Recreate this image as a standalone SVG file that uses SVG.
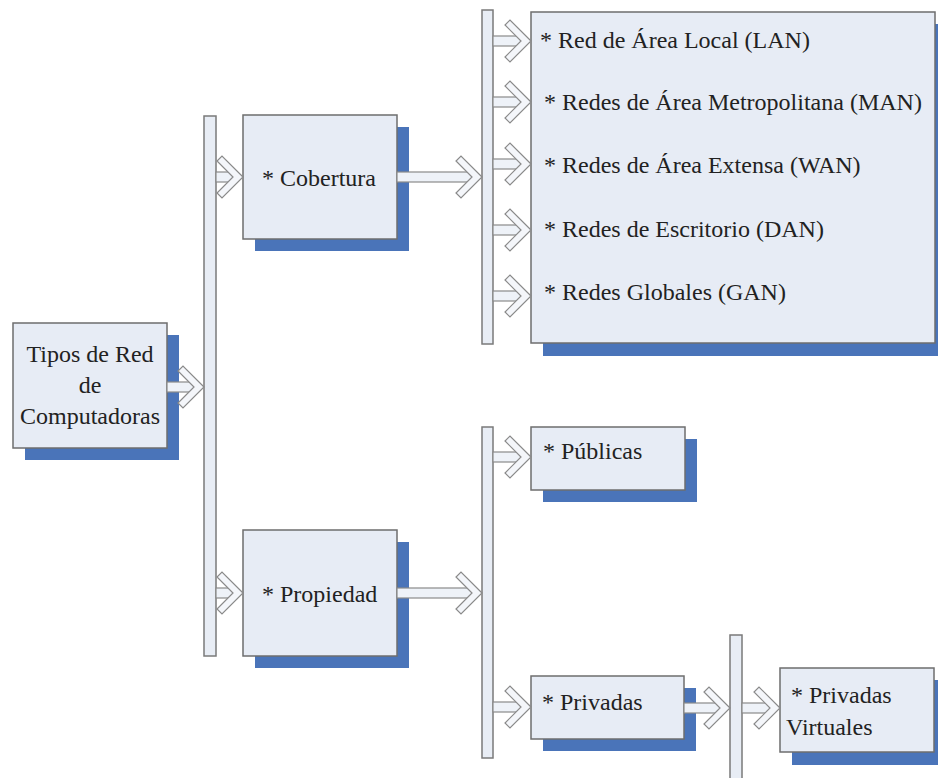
<svg xmlns="http://www.w3.org/2000/svg" xmlns:xlink="http://www.w3.org/1999/xlink" width="938" height="778" viewBox="0 0 938 778">
<style>
.shadow{fill:#4a74b9;}
.box{fill:#e7ecf5;stroke:#6e6e6e;stroke-width:1.5;}
.bar{fill:#e8edf5;stroke:#7a7a7a;stroke-width:1.5;}
.shaft{fill:#eef2f8;stroke:#8a8a8a;stroke-width:1.2;}
.head{fill:#f4f6fa;stroke:#8a8a8a;stroke-width:1.2;stroke-linejoin:miter;}
text{font-family:"Liberation Serif","Times New Roman",serif;font-size:24px;fill:#222222;}
</style>
<defs>
<path id="chev" class="head" d="M0,0 L-21,-21 L-26,-16 L-10,0 L-26,16 L-21,21 Z"/>
</defs>
<rect width="938" height="778" fill="#ffffff"/>

<g id="node-tipos">
<rect class="shadow" x="25" y="335" width="154" height="125"/>
<rect class="box" x="13" y="323" width="154" height="125"/>
<text x="90" y="362" text-anchor="middle">Tipos de Red</text>
<text x="90" y="393" text-anchor="middle">de</text>
<text x="90" y="424" text-anchor="middle">Computadoras</text>
</g>

<g id="node-cobertura">
<rect class="shadow" x="255" y="127" width="154" height="124"/>
<rect class="box" x="243" y="115" width="154" height="124"/>
<text x="262" y="186">* Cobertura</text>
</g>

<g id="node-propiedad">
<rect class="shadow" x="255" y="542" width="154" height="126"/>
<rect class="box" x="243" y="530" width="154" height="126"/>
<text x="262" y="602">* Propiedad</text>
</g>

<g id="node-cobertura-tipos">
<rect class="shadow" x="543" y="24" width="404" height="332"/>
<rect class="box" x="531" y="12" width="404" height="331"/>
<text x="540" y="48">* Red de Área Local (LAN)</text>
<text x="544" y="110">* Redes de Área Metropolitana (MAN)</text>
<text x="544" y="173">* Redes de Área Extensa (WAN)</text>
<text x="544" y="237">* Redes de Escritorio (DAN)</text>
<text x="544" y="300">* Redes Globales (GAN)</text>
</g>

<g id="node-publicas">
<rect class="shadow" x="543" y="439" width="154" height="63"/>
<rect class="box" x="531" y="427" width="154" height="63"/>
<text x="543" y="459">* Públicas</text>
</g>

<g id="node-privadas">
<rect class="shadow" x="543" y="688" width="153" height="63"/>
<rect class="box" x="531" y="676" width="153" height="63"/>
<text x="542" y="710">* Privadas</text>
</g>

<g id="node-privadas-virtuales">
<rect class="shadow" x="792" y="680" width="154" height="85"/>
<rect class="box" x="780" y="668" width="154" height="84"/>
<text x="791" y="703">* Privadas</text>
<text x="786" y="735">Virtuales</text>
</g>

<g id="connectors">
<rect class="bar" x="204" y="116" width="12" height="540"/>
<rect class="bar" x="482" y="10" width="11" height="334"/>
<rect class="bar" x="482" y="427" width="11" height="331"/>
<rect class="bar" x="730" y="635" width="12" height="150"/>

<!-- Tipos -> bar1 -->
<rect class="shaft" x="167" y="382" width="29" height="10"/>
<use xlink:href="#chev" href="#chev" x="204" y="387"/>
<!-- bar1 -> Cobertura -->
<rect class="shaft" x="216" y="172" width="18" height="10"/>
<use xlink:href="#chev" href="#chev" x="243" y="177"/>
<!-- Cobertura -> bar2 -->
<rect class="shaft" x="397" y="172" width="76" height="10"/>
<use xlink:href="#chev" href="#chev" x="482" y="177"/>
<!-- bar2 -> items -->
<rect class="shaft" x="493" y="36" width="29" height="10"/>
<use xlink:href="#chev" href="#chev" x="531" y="41"/>
<rect class="shaft" x="493" y="97" width="29" height="10"/>
<use xlink:href="#chev" href="#chev" x="531" y="102"/>
<rect class="shaft" x="493" y="159" width="29" height="10"/>
<use xlink:href="#chev" href="#chev" x="531" y="164"/>
<rect class="shaft" x="493" y="225" width="29" height="10"/>
<use xlink:href="#chev" href="#chev" x="531" y="230"/>
<rect class="shaft" x="493" y="291" width="29" height="10"/>
<use xlink:href="#chev" href="#chev" x="531" y="296"/>
<!-- bar1 -> Propiedad -->
<rect class="shaft" x="216" y="588" width="18" height="10"/>
<use xlink:href="#chev" href="#chev" x="243" y="593"/>
<!-- Propiedad -> bar3 -->
<rect class="shaft" x="397" y="588" width="76" height="10"/>
<use xlink:href="#chev" href="#chev" x="482" y="593"/>
<!-- bar3 -> Publicas -->
<rect class="shaft" x="493" y="452" width="29" height="10"/>
<use xlink:href="#chev" href="#chev" x="531" y="457"/>
<!-- bar3 -> Privadas -->
<rect class="shaft" x="493" y="702" width="29" height="10"/>
<use xlink:href="#chev" href="#chev" x="531" y="707"/>
<!-- Privadas -> bar4 -->
<rect class="shaft" x="684" y="703" width="37" height="10"/>
<use xlink:href="#chev" href="#chev" x="730" y="708"/>
<!-- bar4 -> Privadas Virtuales -->
<rect class="shaft" x="742" y="703" width="29" height="10"/>
<use xlink:href="#chev" href="#chev" x="780" y="708"/>
</g>
</svg>
